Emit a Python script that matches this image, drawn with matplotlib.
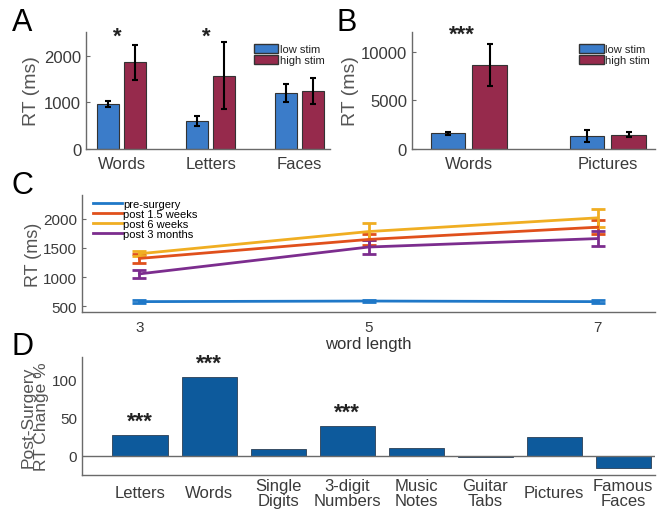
import matplotlib
matplotlib.use('Agg')
import matplotlib.pyplot as plt
from matplotlib.patches import Patch
import numpy as np

plt.rcParams['font.family'] = ['Liberation Sans', 'DejaVu Sans']

# ---- data ----
a_cats = ['Words', 'Letters', 'Faces']
a_low = [960, 605, 1200]
a_low_err = [70, 110, 200]
a_high = [1860, 1565, 1235]
a_high_err = [375, 715, 277]
a_stars = ['*', '*', '']

b_cats = ['Words', 'Pictures']
b_low = [1600, 1350]
b_low_err = [150, 600]
b_high = [8620, 1460]
b_high_err = [2170, 260]
b_stars = ['***', '']

c_x = [3, 5, 7]
c_names = ['pre-surgery', 'post 1.5 weeks', 'post 6 weeks', 'post 3 months']
c_pre = [580, 590, 580]
c_pre_err = [20, 20, 20]
c_w15 = [1320, 1645, 1855]
c_w15_err = [75, 100, 115]
c_w6 = [1400, 1780, 2015]
c_w6_err = [45, 140, 150]
c_m3 = [1055, 1515, 1660]
c_m3_err = [70, 120, 130]

d_cats = ['Letters', 'Words', 'Single\nDigits', '3-digit\nNumbers', 'Music\nNotes',
          'Guitar\nTabs', 'Pictures', 'Famous\nFaces']
d_vals = [28, 104, 9, 39, 10, -2, 25, -16]
d_stars = ['***', '***', '', '***', '', '', '', '']

low_col = '#3b7cc9'
high_col = '#962a4c'
d_col = '#0d5a9c'
c_cols = ['#1f78c8', '#e0501c', '#f0ae22', '#7c2d8e']
grey = '#6a6a6a'
txt = '#3a3a3a'

fig = plt.figure(figsize=(6.57, 5.10), dpi=100)


def style(ax):
    for s in ['top', 'right']:
        ax.spines[s].set_visible(False)
    for s in ['left', 'bottom']:
        ax.spines[s].set_color(grey)
        ax.spines[s].set_linewidth(1.0)
    ax.tick_params(colors=grey, labelcolor=txt, direction='in', length=3)


def grouped(ax, cats, low, lerr, high, herr, stars, ytop, star_y, ticks):
    x = np.arange(1, len(cats) + 1)
    ax.bar(x - 0.15, low, 0.25, color=low_col, edgecolor='#333333', linewidth=0.8)
    ax.bar(x + 0.15, high, 0.25, color=high_col, edgecolor='#333333', linewidth=0.8)
    ax.errorbar(x - 0.15, low, yerr=lerr, fmt='none', ecolor='black', elinewidth=1.5,
                capsize=2.5, capthick=1.5)
    ax.errorbar(x + 0.15, high, yerr=herr, fmt='none', ecolor='black', elinewidth=1.5,
                capsize=2.5, capthick=1.5)
    for xi, s in zip(x, stars):
        if s:
            ax.text(xi - 0.05, star_y, s, ha='center', va='center', fontsize=16,
                    fontweight='bold', color='#222222')
    ax.set_ylim(0, ytop)
    ax.set_yticks(ticks)
    ax.set_xticks(x)
    ax.set_xticklabels(cats)
    style(ax)
    ax.tick_params(axis='x', length=0, pad=5)
    ax.tick_params(labelsize=12)
    ax.set_ylabel('RT (ms)', fontsize=14, color='#555555')
    leg = ax.legend(handles=[Patch(facecolor=low_col, edgecolor='#333333', label='low stim'),
                             Patch(facecolor=high_col, edgecolor='#333333', label='high stim')],
                    loc='upper right', bbox_to_anchor=(1.0, 0.95), frameon=False, fontsize=8,
                    handlelength=2.2, handleheight=0.9, handletextpad=0.1, labelspacing=0.05,
                    borderaxespad=0.1)
    for t in leg.get_texts():
        t.set_color('#222222')
    return x


# ---- A ----
axA = fig.add_axes([0.131, 0.706, 0.371, 0.229])
xa = grouped(axA, a_cats, a_low, a_low_err, a_high, a_high_err, a_stars, 2500, 2420,
             [0, 1000, 2000])
axA.set_xlim(0.6, 3.34)
axA.yaxis.labelpad = 3

# ---- B ----
axB = fig.add_axes([0.627, 0.706, 0.370, 0.229])
xb = grouped(axB, b_cats, b_low, b_low_err, b_high, b_high_err, b_stars, 12000, 11750,
             [0, 5000, 10000])
axB.set_xlim(0.59, 2.34)
axB.yaxis.labelpad = 1

# ---- C ----
axC = fig.add_axes([0.125, 0.386, 0.872, 0.229])
series = [(c_pre, c_pre_err), (c_w15, c_w15_err), (c_w6, c_w6_err), (c_m3, c_m3_err)]
for (vals, err), col, name in zip(series, c_cols, c_names):
    axC.errorbar(c_x, vals, yerr=err, color=col, lw=2, elinewidth=2, capsize=5,
                 capthick=2, label=name)
axC.set_xlim(2.5, 7.5)
axC.set_ylim(400, 2400)
axC.set_xticks(c_x)
axC.set_yticks([500, 1000, 1500, 2000])
style(axC)
axC.tick_params(labelsize=11)
axC.tick_params(axis='x', length=0, pad=6)
axC.set_xlabel('word length', fontsize=12, color='#333333', labelpad=1)
axC.set_ylabel('RT (ms)', fontsize=13, color='#555555', labelpad=1)
handles, labels = axC.get_legend_handles_labels()
handles = [h[0] for h in handles]
legC = axC.legend(handles, labels, loc='upper left', bbox_to_anchor=(0.01, 1.02), frameon=False,
                  fontsize=8, handlelength=2.6, handletextpad=0.1, labelspacing=0.0,
                  borderaxespad=0.1)

# ---- D ----
axD = fig.add_axes([0.125, 0.067, 0.872, 0.231])
xd = np.arange(1, len(d_cats) + 1)
axD.bar(xd, d_vals, 0.8, color=d_col, edgecolor='#2b3f55', linewidth=0.6)
axD.axhline(0, color=grey, lw=1.0)
for xi, v, s in zip(xd, d_vals, d_stars):
    if s:
        axD.text(xi, v + 4, s, ha='center', va='bottom', fontsize=16, fontweight='bold',
                 color='#222222')
axD.set_xlim(0.16, 8.46)
axD.set_ylim(-25, 130)
axD.set_yticks([0, 50, 100])
axD.set_xticks(xd)
axD.set_xticklabels(d_cats, va='center', linespacing=0.95)
style(axD)
axD.tick_params(labelsize=12)
axD.tick_params(axis='y', labelsize=11, length=0)
axD.tick_params(axis='x', length=0, pad=13)
axD.set_ylabel('Post-Surgery\nRT Change %', fontsize=12.5, color='#555555', linespacing=0.9,
               labelpad=2)

# panel letters
for lab, xx, yy in [('A', 0.018, 0.925), ('B', 0.512, 0.925), ('C', 0.018, 0.605),
                    ('D', 0.018, 0.29)]:
    fig.text(xx, yy, lab, fontsize=22, color='black', ha='left', va='bottom')

fig.savefig('out.png', dpi=100)
